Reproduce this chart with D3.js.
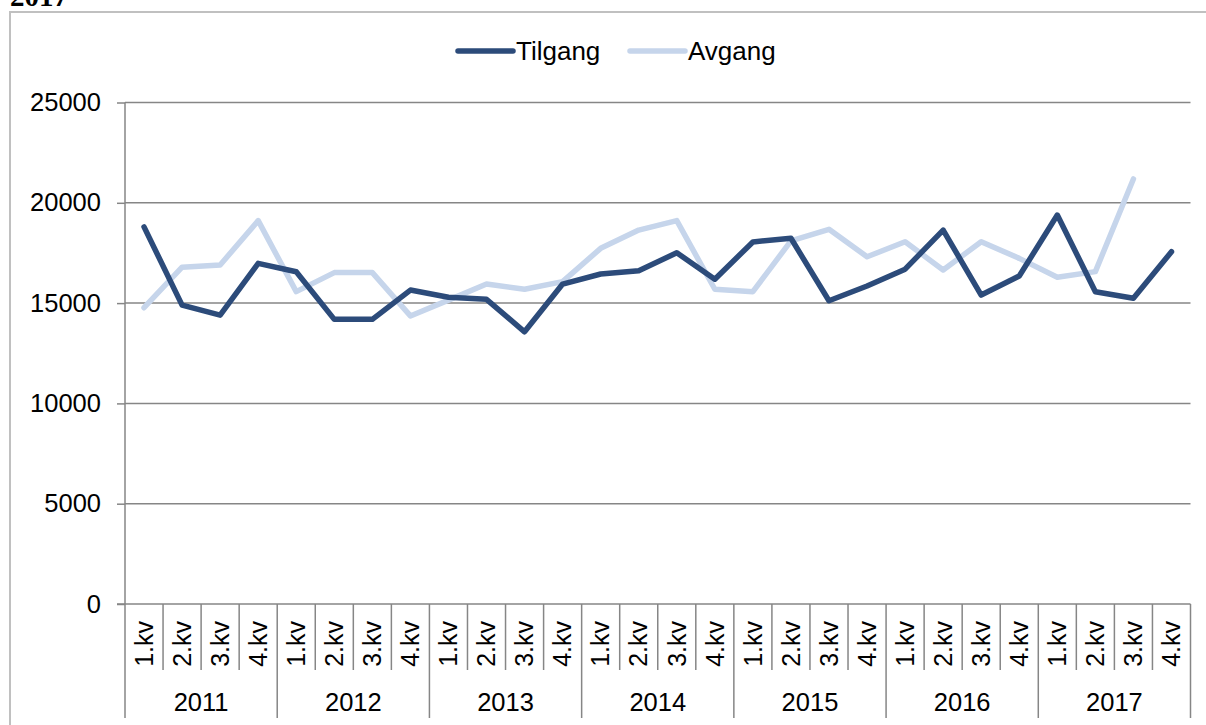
<!DOCTYPE html>
<html>
<head>
<meta charset="utf-8">
<script src="https://cdnjs.cloudflare.com/ajax/libs/d3/7.8.5/d3.min.js"></script>
<style>
  body { margin: 0; background: #fff; }
  text { font-family: "Liberation Sans", Arial, sans-serif; fill: #000; }
</style>
</head>
<body>
<div id="chart"></div>
<script>
const years = ['2011', '2012', '2013', '2014', '2015', '2016', '2017'];
const quarters = ['1.kv', '2.kv', '3.kv', '4.kv'];
const tilgang = [18800, 14900, 14400, 16980, 16560, 14190, 14190, 15650,
                 15290, 15190, 13570, 15950, 16450, 16610, 17510, 16190,
                 18050, 18230, 15120, 15850, 16690, 18640, 15400, 16350,
                 19390, 15570, 15240, 17560];
const avgang = [14770, 16790, 16900, 19110, 15570, 16520, 16520, 14360,
                15150, 15950, 15690, 16070, 17730, 18640, 19110, 15690,
                15570, 18100, 18680, 17310, 18060, 16650, 18060, 17230,
                16290, 16570, 21190];
const yTicks = [0, 5000, 10000, 15000, 20000, 25000];

const W = 1206, H = 725;
const plotLeft = 125, plotRight = 1190.5, plotTop = 102.5, plotBottom = 604;
const grey = '#868686';

const svg = d3.select('#chart').append('svg')
  .attr('width', W).attr('height', H);

// heading of the page, cut off at the top edge as in the source
svg.append('text')
  .attr('x', 10).attr('y', 6)
  .style('font-family', '"Liberation Serif", "Times New Roman", serif')
  .style('font-weight', 'bold').style('font-size', '29px')
  .text('2017');

// chart frame (open on the right and bottom)
svg.append('path')
  .attr('d', `M10,${H + 2} L10,12 L${W + 2},12`)
  .attr('fill', 'none').attr('stroke', '#c0c0c0').attr('stroke-width', 2);

const keys = [];
years.forEach(y => quarters.forEach(q => keys.push(y + ' ' + q)));

const x = d3.scaleBand().domain(keys).range([plotLeft, plotRight]);
const y = d3.scaleLinear().domain([0, 25000]).range([plotBottom, plotTop]);

// y axis with gridlines
const yAxis = svg.append('g')
  .attr('transform', `translate(${plotLeft},0)`)
  .call(d3.axisLeft(y).tickValues(yTicks).tickSize(8).tickPadding(16).tickFormat(d3.format('d')));
yAxis.select('.domain').remove();
yAxis.selectAll('line').attr('stroke', grey).attr('stroke-width', 1.5);
yAxis.selectAll('text').style('font-size', '25.5px').attr('fill', '#000');

svg.append('g').selectAll('line')
  .data(yTicks.filter(d => d > 0))
  .join('line')
  .attr('x1', plotLeft).attr('x2', plotRight)
  .attr('y1', d => y(d)).attr('y2', d => y(d))
  .attr('stroke', grey).attr('stroke-width', 1.5);

// left axis line, running down through the category labels
svg.append('line')
  .attr('x1', plotLeft).attr('x2', plotLeft).attr('y1', plotTop).attr('y2', 718)
  .attr('stroke', grey).attr('stroke-width', 1.5);

// category axis line
svg.append('line')
  .attr('x1', plotLeft - 8).attr('x2', plotRight).attr('y1', plotBottom).attr('y2', plotBottom)
  .attr('stroke', grey).attr('stroke-width', 1.5);

// quarter separators
const bw = x.bandwidth();
svg.append('g').selectAll('line')
  .data(keys.slice(1).filter((k, i) => (i + 1) % 4 !== 0))
  .join('line')
  .attr('x1', d => x(d)).attr('x2', d => x(d))
  .attr('y1', plotBottom).attr('y2', 670)
  .attr('stroke', grey).attr('stroke-width', 1.5);

// year separators
svg.append('g').selectAll('line')
  .data(years.slice(1).map(yr => yr + ' 1.kv').concat(['end']))
  .join('line')
  .attr('x1', d => d === 'end' ? plotRight : x(d)).attr('x2', d => d === 'end' ? plotRight : x(d))
  .attr('y1', plotBottom).attr('y2', 718)
  .attr('stroke', grey).attr('stroke-width', 1.5);

// quarter labels
svg.append('g').selectAll('text')
  .data(keys)
  .join('text')
  .attr('transform', d => `translate(${x(d) + bw / 2},621) rotate(-90)`)
  .attr('text-anchor', 'end')
  .attr('dy', '0.35em')
  .style('font-size', '25px')
  .text(d => d.split(' ')[1]);

// year labels
svg.append('g').selectAll('text')
  .data(years)
  .join('text')
  .attr('x', d => x(d + ' 1.kv') + bw * 2)
  .attr('y', 711)
  .attr('text-anchor', 'middle')
  .style('font-size', '25.5px')
  .text(d => d);

// lines
const line = d3.line()
  .x((d, i) => x(keys[i]) + bw / 2)
  .y(d => y(d));

svg.append('path')
  .datum(avgang)
  .attr('d', line)
  .attr('fill', 'none').attr('stroke', '#c6d5eb').attr('stroke-width', 5.5)
  .attr('stroke-linejoin', 'round').attr('stroke-linecap', 'round');

svg.append('path')
  .datum(tilgang)
  .attr('d', line)
  .attr('fill', 'none').attr('stroke', '#2c4b7a').attr('stroke-width', 5.5)
  .attr('stroke-linejoin', 'round').attr('stroke-linecap', 'round');

// legend
const legend = [
  {name: 'Tilgang', color: '#2c4b7a', x: 458},
  {name: 'Avgang', color: '#c6d5eb', x: 630}
];
const lg = svg.append('g').selectAll('g').data(legend).join('g');
lg.append('line')
  .attr('x1', d => d.x).attr('x2', d => d.x + 55)
  .attr('y1', 51).attr('y2', 51)
  .attr('stroke', d => d.color).attr('stroke-width', 5.5).attr('stroke-linecap', 'round');
lg.append('text')
  .attr('x', d => d.x + 58).attr('y', 60)
  .style('font-size', '26px')
  .text(d => d.name);
</script>
</body>
</html>
